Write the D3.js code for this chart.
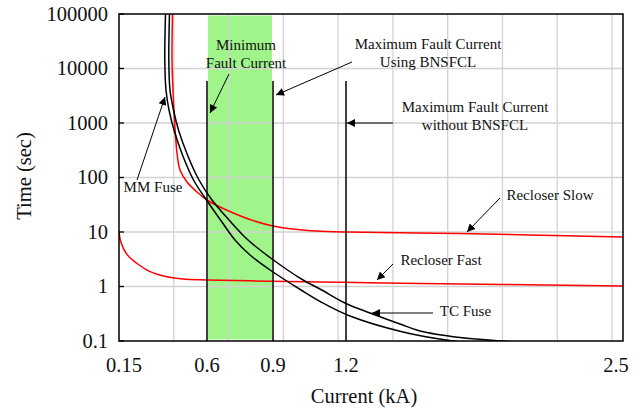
<!DOCTYPE html>
<html>
<head>
<meta charset="utf-8">
<script src="https://cdn.jsdelivr.net/npm/d3@7"></script>
<style>
  html, body { margin: 0; padding: 0; background: #fff; }
  svg text { font-family: "Liberation Serif", "DejaVu Serif", serif; fill: #111; }
</style>
</head>
<body>
<div id="chart"></div>
<script>
// x axis break values (kA) and their labels
const xBreaks = [0.15, 0.6, 0.9, 1.2, 2.5];
const xTickLabels = ["0.15", "0.6", "0.9", "1.2", "2.5"];
const yTicks = [0.1, 1, 10, 100, 1000, 10000, 100000];

// fault current markers
const faultLines = [0.6, 0.9, 1.2];
const faultLineTop = 5900;
const faultBand = [0.6, 0.9];

// curves: [current kA, time sec]
const mmFuse = [
  [0.3878, 100000], [0.3842, 14320], [0.3903, 4032], [0.4057, 1732], [0.4312, 744],
  [0.4747, 258.7], [0.531, 90.0], [0.5974, 38.65], [0.6614, 16.61], [0.7273, 7.133],
  [0.7955, 3.784], [0.8864, 2.008], [1.0151, 0.8627], [1.0973, 0.5195], [1.2188, 0.2875],
  [1.4675, 0.1463], [1.7022, 0.1], [2.0166, 0.0776]
];
const tcFuse = [
  [0.4082, 100000], [0.4047, 14320], [0.4108, 4032], [0.4287, 1732], [0.4543, 744],
  [0.5003, 258.7], [0.5591, 90.0], [0.6227, 38.65], [0.7, 16.61], [0.7864, 7.133],
  [0.8955, 3.196], [1.0233, 1.316], [1.0932, 0.8997], [1.2, 0.4877], [1.3126, 0.3265],
  [1.4534, 0.205], [1.5473, 0.1526], [1.735, 0.1159], [1.9321, 0.1], [2.2043, 0.0881]
];
const recloserSlow = [
  [0.4236, 100000], [0.421, 14320], [0.4261, 4032], [0.4338, 1135], [0.4466, 281.5],
  [0.4619, 137], [0.4977, 82.7], [0.5489, 54.2], [0.6, 38.65], [0.6591, 28.8],
  [0.7955, 16.96], [0.9, 12.89], [0.9904, 11.21], [1.0808, 10.4], [1.2047, 10],
  [1.735, 9.38], [2.5, 8.1]
];
const recloserFast = [
  [0.15, 10.5], [0.159, 6.64], [0.189, 3.94], [0.241, 2.67], [0.309, 1.87],
  [0.394, 1.51], [0.477, 1.37], [0.6, 1.32], [0.795, 1.27], [1.093, 1.21],
  [1.453, 1.15], [2.5, 1.02]
];

const width = 644, height = 409;
const margin = { top: 14, right: 21, bottom: 68, left: 119 };
const innerW = width - margin.left - margin.right;
const innerH = height - margin.top - margin.bottom;

const svg = d3.select("#chart").append("svg")
  .attr("width", width)
  .attr("height", height);

const g = svg.append("g")
  .attr("transform", `translate(${margin.left},${margin.top})`);

// piecewise linear current axis (labels sit on the marker lines)
const xBreakFrac = [0, 0.1746, 0.3056, 0.4504, 1];
const x = d3.scaleLinear()
  .domain(xBreaks)
  .range(xBreakFrac.map(f => f * innerW));

const y = d3.scaleLog()
  .domain([0.1, 100000])
  .range([innerH, 0]);

// evenly spaced vertical grid of the original sheet
const gridX = d3.scaleLinear().domain([0, 9.2]).range([0, innerW]);

const defs = svg.append("defs");
defs.append("clipPath").attr("id", "plot-clip")
  .append("rect").attr("width", innerW).attr("height", innerH);

defs.append("marker")
  .attr("id", "arrow")
  .attr("viewBox", "0 0 10 10")
  .attr("refX", 10).attr("refY", 5)
  .attr("markerWidth", 12).attr("markerHeight", 8)
  .attr("markerUnits", "userSpaceOnUse")
  .attr("orient", "auto")
  .append("path")
  .attr("d", "M0,0 L10,5 L0,10 Z")
  .attr("fill", "#000");

// green band
g.append("rect")
  .attr("x", x(faultBand[0]) + 1)
  .attr("y", 1.5)
  .attr("width", x(faultBand[1]) - x(faultBand[0]) - 2)
  .attr("height", innerH - 3)
  .attr("fill", "#9ff48a");

// grid
g.append("g").selectAll("line")
  .data(d3.range(1, 10))
  .enter().append("line")
  .attr("x1", d => gridX(d)).attr("x2", d => gridX(d))
  .attr("y1", 0).attr("y2", innerH)
  .attr("stroke", "#d2d2d2").attr("stroke-width", 1.3);

g.append("g").selectAll("line")
  .data(yTicks.slice(1, -1))
  .enter().append("line")
  .attr("x1", 0).attr("x2", innerW)
  .attr("y1", d => y(d)).attr("y2", d => y(d))
  .attr("stroke", "#d2d2d2").attr("stroke-width", 1.3);

// y ticks (inside)
g.append("g").selectAll("line")
  .data(yTicks)
  .enter().append("line")
  .attr("x1", 0).attr("x2", 5)
  .attr("y1", d => y(d)).attr("y2", d => y(d))
  .attr("stroke", "#000").attr("stroke-width", 1.3);

// curves
const line = d3.line()
  .x(d => x(d[0]))
  .y(d => y(d[1]))
  .curve(d3.curveCatmullRom.alpha(0.5));

const curves = g.append("g").attr("clip-path", "url(#plot-clip)");
[
  { data: recloserFast, color: "#ff0000" },
  { data: recloserSlow, color: "#ff0000" },
  { data: mmFuse, color: "#000" },
  { data: tcFuse, color: "#000" }
].forEach(c => {
  curves.append("path")
    .attr("d", line(c.data))
    .attr("fill", "none")
    .attr("stroke", c.color)
    .attr("stroke-width", 1.5);
});

// fault current lines
g.append("g").selectAll("line")
  .data(faultLines)
  .enter().append("line")
  .attr("x1", d => x(d)).attr("x2", d => x(d))
  .attr("y1", y(faultLineTop)).attr("y2", innerH)
  .attr("stroke", "#000").attr("stroke-width", 1.5);

// frame
g.append("rect")
  .attr("width", innerW).attr("height", innerH)
  .attr("fill", "none")
  .attr("stroke", "#000").attr("stroke-width", 1.5);

// y tick labels
g.append("g").selectAll("text")
  .data(yTicks)
  .enter().append("text")
  .attr("x", -11)
  .attr("y", d => y(d))
  .attr("dy", "0.34em")
  .attr("text-anchor", "end")
  .attr("font-size", "20.5px")
  .text(d => d < 1 ? String(d) : d3.format("d")(d));

// x tick labels
g.append("g").selectAll("text")
  .data(xBreaks)
  .enter().append("text")
  .attr("x", (d, i) => x(d) + (i === 0 ? 5 : i === xBreaks.length - 1 ? -7 : 0))
  .attr("y", innerH + 31)
  .attr("text-anchor", "middle")
  .attr("font-size", "20.5px")
  .text((d, i) => xTickLabels[i]);

// axis titles
svg.append("text")
  .attr("x", 364).attr("y", 403)
  .attr("text-anchor", "middle")
  .attr("font-size", "20.5px")
  .text("Current (kA)");

svg.append("text")
  .attr("transform", "translate(31,176) rotate(-90)")
  .attr("text-anchor", "middle")
  .attr("font-size", "20.5px")
  .text("Time (sec)");

// annotations (plot-area pixels)
const notes = [
  { lines: ["Minimum", "Fault Current"], tx: 127, ty: 36, from: [110, 60], to: [91, 99] },
  { lines: ["Maximum Fault Current", "Using BNSFCL"], tx: 309, ty: 34.5, from: [233, 48], to: [157, 81] },
  { lines: ["Maximum Fault Current", "without BNSFCL"], tx: 356, ty: 98, from: [274, 109], to: [228, 109] },
  { lines: ["MM Fuse"], tx: 34, ty: 178, from: [18, 166], to: [46, 83] },
  { lines: ["Recloser Slow"], tx: 431, ty: 186, from: [381, 184], to: [348, 218] },
  { lines: ["Recloser Fast"], tx: 322, ty: 251, from: [274, 250], to: [258, 266] },
  { lines: ["TC Fuse"], tx: 346.5, ty: 302, from: [314, 299], to: [253, 299] }
];

const ann = g.append("g");
notes.forEach(n => {
  const t = ann.append("text")
    .attr("text-anchor", "middle")
    .attr("font-size", "15px");
  n.lines.forEach((s, i) => {
    t.append("tspan")
      .attr("x", n.tx)
      .attr("y", n.ty + i * 18)
      .text(s);
  });
  ann.append("line")
    .attr("x1", n.from[0]).attr("y1", n.from[1])
    .attr("x2", n.to[0]).attr("y2", n.to[1])
    .attr("stroke", "#000").attr("stroke-width", 1)
    .attr("marker-end", "url(#arrow)");
});
</script>
</body>
</html>
